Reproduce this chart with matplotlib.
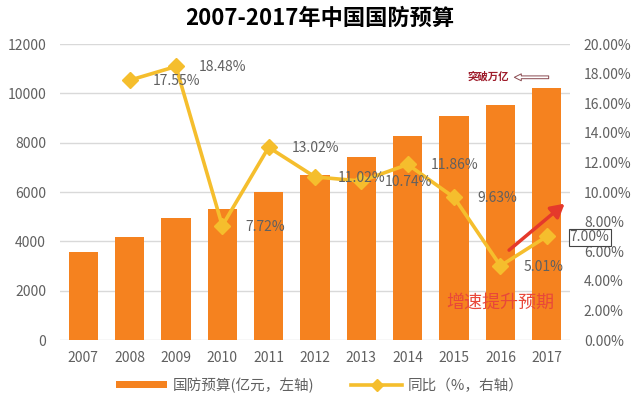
import numpy as np
import matplotlib
matplotlib.use("Agg")
import matplotlib.pyplot as plt
from matplotlib.ticker import FuncFormatter, MultipleLocator

plt.rcParams["font.family"] = ["Noto Sans CJK SC", "DejaVu Sans"]

years = ["2007", "2008", "2009", "2010", "2011", "2012",
         "2013", "2014", "2015", "2016", "2017"]
# 国防预算 (亿元)
budget = [3554.91, 4177.68, 4951.10, 5321.15, 6011.56, 6691.92,
          7410.62, 8289.54, 9087.84, 9543.54, 10211.0]
# 同比 (%)
growth = [np.nan, 17.55, 18.48, 7.72, 13.02, 11.02,
          10.74, 11.86, 9.63, 5.01, 7.00]

bar_color = "#f5821f"
line_color = "#f5be2d"
text_gray = "#606060"

fig = plt.figure(figsize=(6.4, 4.04), dpi=100)
ax = fig.add_axes([60 / 640, 1 - 340 / 404, 510 / 640, 296 / 404])
x = np.arange(len(years))

ax.bar(x, budget, width=0.63, color=bar_color, zorder=2, label="国防预算(亿元，左轴)")
ax.set_xlim(-0.5, len(years) - 0.5)
ax.set_ylim(0, 12000)
ax.yaxis.set_major_locator(MultipleLocator(2000))
ax.set_xticks(x)
ax.set_xticklabels(years)
ax.grid(axis="y", color="#d9d9d9", lw=1, zorder=0)
ax.tick_params(length=0, labelsize=10, colors=text_gray)
ax.tick_params(axis="y", pad=10)
ax.tick_params(axis="x", pad=8)
for s in ax.spines.values():
    s.set_visible(False)

ax2 = ax.twinx()
ax2.plot(x, growth, color=line_color, lw=2.6, marker="D", ms=8.5,
         zorder=3, label="同比（%，右轴）")
ax2.set_ylim(0, 20)
ax2.yaxis.set_major_locator(MultipleLocator(2))
ax2.yaxis.set_major_formatter(FuncFormatter(lambda v, p: "%.2f%%" % v))
ax2.tick_params(length=0, labelsize=10, colors=text_gray, pad=10)
for s in ax2.spines.values():
    s.set_visible(False)

# data labels to the right of each point
for i, g in enumerate(growth):
    if np.isnan(g):
        continue
    box = None
    if i == len(growth) - 1:
        box = dict(boxstyle="square,pad=0.08", fc="white", ec="#444444", lw=0.8)
    ax2.annotate("%.2f%%" % g, (i, g), xytext=(23, -1), textcoords="offset pixels",
                 ha="left", va="center", fontsize=10, color=text_gray,
                 bbox=box, annotation_clip=False)

fig.text(0.5, 0.955, "2007-2017年中国国防预算", ha="center", va="center",
         fontsize=16, fontweight="bold", color="black")

# 突破万亿
ax.text(8.73, 10700, "突破万亿", ha="center", va="center", fontsize=7.5,
        fontweight="bold", color="#9e1b2a")
ax.annotate("", xy=(9.24, 10650), xytext=(10.1, 10650),
            arrowprops=dict(arrowstyle="simple,head_width=0.5,tail_width=0.2",
                            fc="white", ec="#8a4a50", lw=0.7), annotation_clip=False)

# 增速提升预期
ax.annotate("", xy=(10.43, 5600), xytext=(9.14, 3570),
            arrowprops=dict(arrowstyle="-|>,head_length=0.8,head_width=0.45",
                            color="#e5392b", lw=2.5), annotation_clip=False)
ax.text(8.99, 1500, "增速提升预期", ha="center", va="center", fontsize=13,
        color="#e8473a")

h1, l1 = ax.get_legend_handles_labels()
h2, l2 = ax2.get_legend_handles_labels()
fig.legend(h1 + h2, l1 + l2, loc="center", bbox_to_anchor=(0.5, 0.047), ncol=2,
           frameon=False, fontsize=10.5, labelcolor=text_gray, handlelength=3.5,
           handleheight=0.45, columnspacing=2.5, handletextpad=0.4,
           markerscale=0.7)

fig.savefig("out.png", dpi=100)
